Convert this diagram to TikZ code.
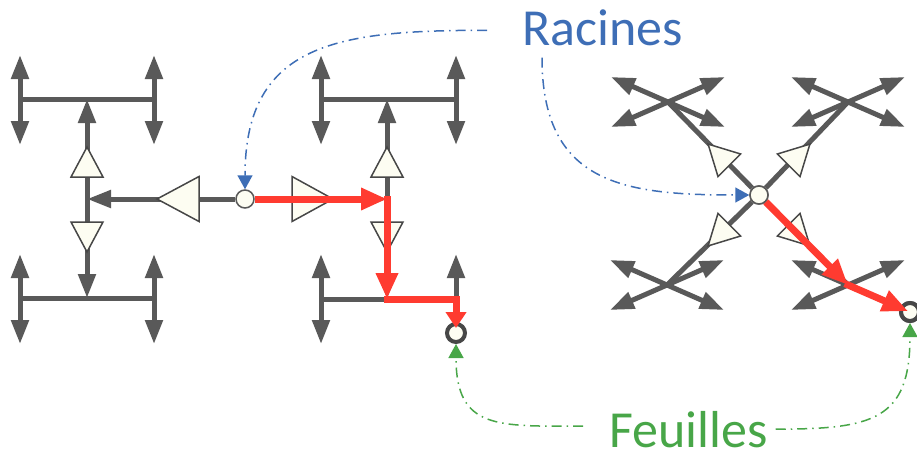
\documentclass[tikz,border=0pt]{standalone}
\usepackage{fontspec}
\setmainfont{Carlito}
\usetikzlibrary{arrows.meta}
\definecolor{dgray}{RGB}{89,89,89}
\definecolor{cream}{RGB}{253,253,242}
\definecolor{pathred}{RGB}{255,59,48}
\definecolor{rootblue}{RGB}{62,110,182}
\definecolor{leafgreen}{RGB}{72,166,72}
\tikzset{
  bar/.style={dgray, line width=5pt},
  arm/.style={bar, -{Triangle[length=24pt,width=17pt]}},
  darm/.style={bar, {Triangle[length=24pt,width=17pt]}-{Triangle[length=24pt,width=17pt]}},
  tri/.style={fill=cream, draw=dgray!80!black, line width=1.5pt, line join=miter},
  rootnode/.style={circle, fill=cream, draw=dgray, line width=1.5pt, minimum size=18pt, inner sep=0pt},
  leafnode/.style={circle, fill=cream, draw=dgray!80!black, line width=4pt, minimum size=18pt, inner sep=0pt},
  redpath/.style={pathred, line width=7pt, line join=miter, -{Triangle[length=26pt,width=21pt]}},
  tag/.style={font=\fontsize{52}{56}\selectfont, inner sep=0pt, anchor=base west},
  link/.style={line width=1.5pt, dash pattern=on 10pt off 5pt on 1.5pt off 5pt, -{Triangle[length=14pt,width=15pt]}}
}
\begin{document}
\begin{tikzpicture}[x=1pt,y=-1pt]
\useasboundingbox (0,0) rectangle (917,455);
% arbre en H
\coordinate (c1) at (87,199);
\coordinate (c2) at (387,199);
\draw[bar] (20,99) -- (154,99);
\draw[bar] (20,298) -- (154,298);
\draw[bar] (321,99) -- (456,99);
\draw[bar] (321,299) -- (456,299);
\foreach \x in {20,154,321,456} \draw[darm] (\x,55) -- (\x,145);
\foreach \x in {20,154,321} \draw[darm] (\x,254) -- (\x,344);
\draw[arm] (456,299) -- (456,254);
\draw[arm] (c1) -- (87,99);
\draw[arm] (c1) -- (87,298);
\draw[arm] (c2) -- (387,99);
\draw[arm] (c2) -- (387,299);
\node[rootnode] (r1) at (245,199) {};
\draw[arm] (r1) -- (c1);
\draw[arm] (r1) -- (c2);
\draw[tri] (157,199) -- (199,176.5) -- (199,221.5) -- cycle;
\draw[tri] (333,199) -- (292,176.5) -- (292,221.5) -- cycle;
\foreach \x in {87,387} {
  \draw[tri] (\x,147) -- (\x-16,177) -- (\x+16,177) -- cycle;
  \draw[tri] (\x,252) -- (\x-16,222) -- (\x+16,222) -- cycle;
}
\node[leafnode] (l1) at (456,333) {};
% arbre en X
\node[rootnode] (r2) at (759,195) {};
\coordinate (xul) at (668,102);
\coordinate (xur) at (848,102);
\coordinate (xll) at (667,285);
\coordinate (xlr) at (848,285);
\node[leafnode] (l2) at (910,312) {};
\foreach \c in {xul,xur,xll,xlr} \draw[bar] (r2) -- (\c);
\foreach \c in {xul,xur,xll} {
  \draw[darm] ([shift={(-57,-25)}]\c) -- ([shift={(57,25)}]\c);
  \draw[darm] ([shift={(-57,25)}]\c) -- ([shift={(57,-25)}]\c);
}
\draw[darm] ([shift={(-57,25)}]xlr) -- ([shift={(57,-25)}]xlr);
\draw[arm] (xlr) -- ([shift={(-57,-25)}]xlr);
\draw[bar] (xlr) -- (l2);
\foreach \a in {45,135,225,315}
  \draw[tri, shift={(759,195)}, rotate=\a] (42,-16) -- (72,0) -- (42,16) -- cycle;
\node[rootnode] at (r2) {};
\node[leafnode] at (l2) {};
% chemin
\draw[redpath] (r1) -- (c2);
\draw[redpath, line cap=rect] (c2) -- (387,299);
\draw[redpath, line cap=rect, -{Triangle[length=16pt,width=20pt]}, shorten >=5pt] (387,299) -- (456,299) -- (l1.center);
\draw[redpath] (r2) -- (xlr);
\draw[redpath, line cap=rect, shorten >=2pt] (xlr) -- (l2.center);
% legendes
\node[tag, rootblue] (racines) at (522,45) {Racines};
\node[tag, leafgreen] (feuilles) at (609,447) {Feuilles};
\draw[link, rootblue] ([xshift=-35pt,yshift=-3pt]racines.west) to[out=180,in=90,looseness=1.3] (r1);
\draw[link, rootblue] ([xshift=20pt,yshift=-12pt]racines.south west) to[out=-90,in=180,looseness=1.3] (r2);
\draw[link, leafgreen] ([xshift=-26pt,yshift=3pt]feuilles.west) to[out=180,in=-90,looseness=1.45] (l1);
\draw[link, leafgreen] ([xshift=8pt]feuilles.east) to[out=0,in=-90,looseness=1.45] (l2);
\end{tikzpicture}
\end{document}
